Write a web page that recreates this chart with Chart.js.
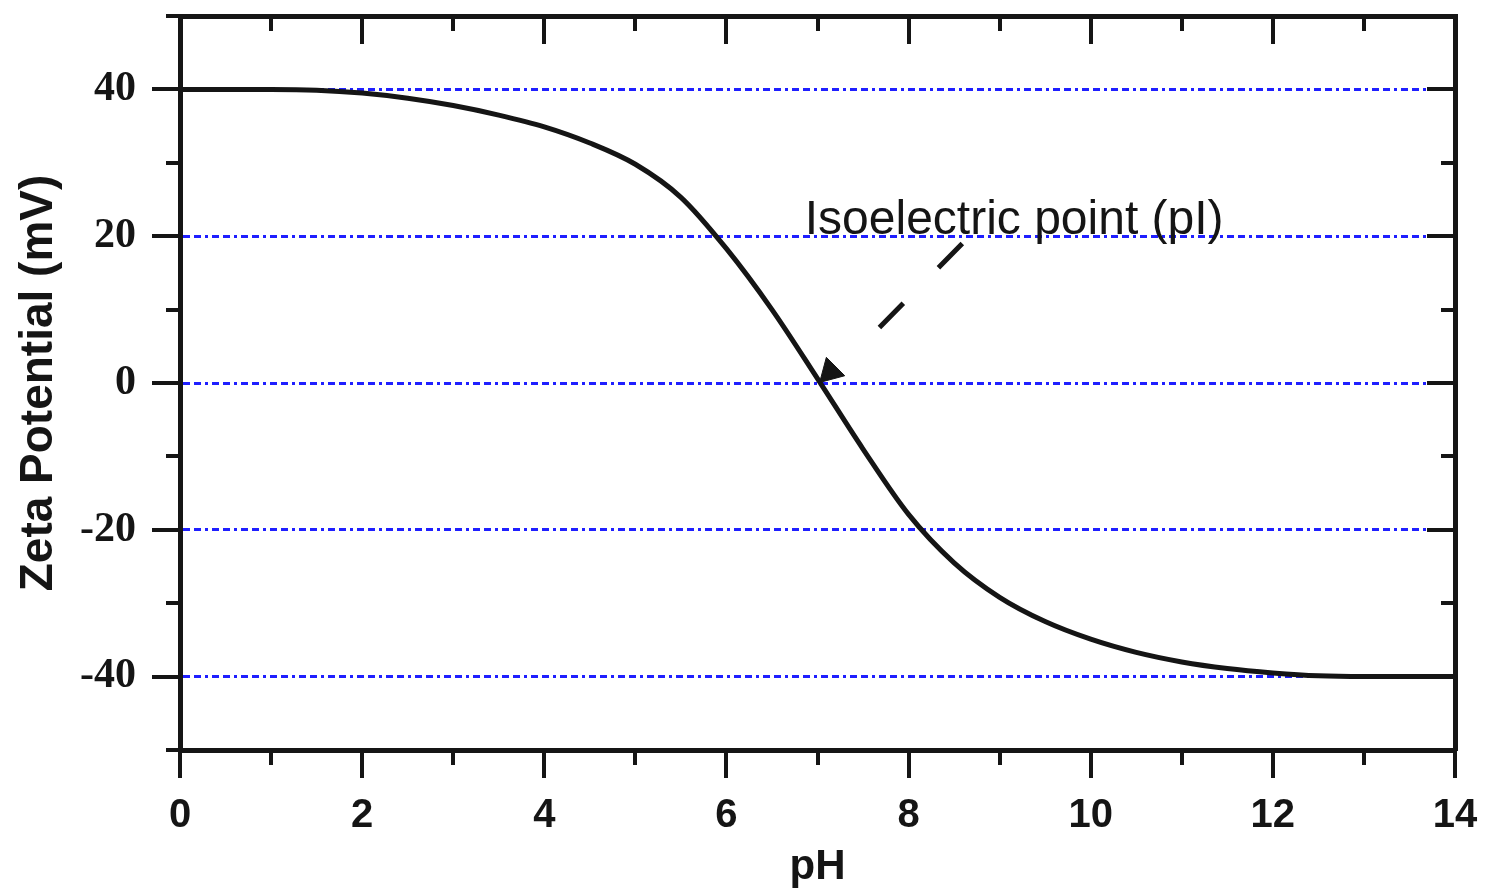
<!DOCTYPE html>
<html>
<head>
<meta charset="utf-8">
<script src="https://cdn.jsdelivr.net/npm/chart.js@4.4.1/dist/chart.umd.min.js"></script>
<style>
  html, body { margin: 0; padding: 0; background: #ffffff; }
  #wrap { width: 1487px; height: 893px; }
</style>
</head>
<body>
<div id="wrap"><canvas id="c" width="1487" height="893"></canvas></div>
<script>
// ---- data ----
const phValues   = [0, 1, 1.5, 2, 2.5, 3, 3.5, 4, 4.5, 5, 5.5, 6, 6.5, 7, 7.5, 8, 8.5, 9, 9.5, 10, 10.5, 11, 11.5, 12, 12.5, 13, 14];
const zetaValues = [40, 40, 39.9, 39.5, 38.8, 37.8, 36.5, 34.9, 32.7, 29.8, 25.3, 18.3, 10.0, 0.6, -9.0, -17.9, -24.5, -29.2, -32.5, -34.9, -36.7, -38.0, -38.9, -39.5, -39.9, -40, -40];
const arrowFrom  = [8.59, 19.0];   // pH, mV : tail of dashed pointer
const arrowTo    = [7.37, 3.66];   // pH, mV : base of arrow head
const arrowHead  = [7.14, 1.52];   // pH, mV : arrow head centre
const annotationText = 'Isoelectric point (pI)';
const annotationAt   = [6.86, 20.3];
const xTickValues = [0, 1, 2, 3, 4, 5, 6, 7, 8, 9, 10, 11, 12, 13, 14];
const yTickValues = [-50, -40, -30, -20, -10, 0, 10, 20, 30, 40, 50];
const xTitle = 'pH';
const yTitle = 'Zeta Potential (mV)';

const INK = '#151515';
const GRIDBLUE = '#1f1fff';

function noPad(s) { s.paddingLeft = 0; s.paddingRight = 0; s.paddingTop = 0; s.paddingBottom = 0; }

const tickPlugin = {
  id: 'frameTicks',
  afterDatasetsDraw(chart) {
    const ctx = chart.ctx;
    const xs = chart.scales.x, ys = chart.scales.y;
    const a = chart.chartArea;
    ctx.save();
    ctx.strokeStyle = INK;
    ctx.lineWidth = 4;
    xTickValues.forEach(v => {
      const px = Math.round(xs.getPixelForValue(v));
      const len = (v % 2 === 0) ? 28 : 15;
      ctx.beginPath(); ctx.moveTo(px, a.bottom); ctx.lineTo(px, a.bottom + len); ctx.stroke();
      ctx.beginPath(); ctx.moveTo(px, a.top); ctx.lineTo(px, a.top + len); ctx.stroke();
    });
    yTickValues.forEach(v => {
      const py = Math.round(ys.getPixelForValue(v));
      const len = (v % 20 === 0) ? 28 : 14;
      ctx.beginPath(); ctx.moveTo(a.left - len, py); ctx.lineTo(a.left, py); ctx.stroke();
      ctx.beginPath(); ctx.moveTo(a.right - len, py); ctx.lineTo(a.right, py); ctx.stroke();
    });
    // annotation text
    ctx.fillStyle = INK;
    ctx.font = '48px "Liberation Sans", Arial, sans-serif';
    ctx.textBaseline = 'alphabetic';
    ctx.textAlign = 'left';
    ctx.fillText(annotationText, xs.getPixelForValue(annotationAt[0]), ys.getPixelForValue(annotationAt[1]));
    ctx.restore();
  }
};

const chart = new Chart(document.getElementById('c'), {
  type: 'line',
  data: {
    datasets: [
      {
        label: 'zeta',
        data: phValues.map((x, i) => ({ x: x, y: zetaValues[i] })),
        borderColor: INK,
        borderWidth: 5,
        pointRadius: 0,
        cubicInterpolationMode: 'monotone',
        fill: false,
        order: 1
      },
      {
        label: 'pointer',
        data: [{ x: arrowFrom[0], y: arrowFrom[1] }, { x: arrowTo[0], y: arrowTo[1] }],
        borderColor: INK,
        borderWidth: 5,
        borderDash: [34, 50],
        borderCapStyle: 'butt',
        pointRadius: 0,
        fill: false,
        order: 0
      },
      {
        label: 'head',
        data: [{ x: arrowHead[0], y: arrowHead[1] }],
        showLine: false,
        pointStyle: 'triangle',
        pointRadius: 15,
        pointRotation: 225,
        pointBackgroundColor: INK,
        pointBorderColor: INK,
        pointBorderWidth: 1,
        order: 0
      }
    ]
  },
  options: {
    responsive: false,
    animation: false,
    events: [],
    layout: { padding: 0 },
    plugins: { legend: { display: false }, tooltip: { enabled: false }, title: { display: false } },
    scales: {
      x: {
        type: 'linear', position: 'bottom', min: 0, max: 14,
        afterFit(s) { s.height = 143; noPad(s); },
        afterBuildTicks(s) { s.ticks = xTickValues.filter(v => v % 2 === 0).map(v => ({ value: v })); },
        grid: { display: false, drawTicks: false },
        border: { display: true, color: INK, width: 5 },
        ticks: {
          color: INK, padding: 42, maxRotation: 0, autoSkip: false,
          font: { family: '"Liberation Sans", Arial, sans-serif', size: 40, weight: 'bold' }
        },
        title: {
          display: true, text: xTitle, color: INK, padding: { top: 4, bottom: 0 },
          font: { family: '"Liberation Sans", Arial, sans-serif', size: 42, weight: 'bold' }
        }
      },
      xTop: {
        type: 'linear', position: 'top', min: 0, max: 14,
        afterFit(s) { s.height = 16; noPad(s); },
        grid: { display: false, drawTicks: false },
        border: { display: true, color: INK, width: 5 },
        ticks: { display: false }
      },
      y: {
        type: 'linear', position: 'left', min: -50, max: 50,
        afterFit(s) { s.width = 180; noPad(s); },
        afterBuildTicks(s) { s.ticks = yTickValues.map(v => ({ value: v })); },
        grid: {
          display: true, drawTicks: false, drawOnChartArea: true, lineWidth: 3,
          color: c => (c.tick && c.tick.value % 20 === 0 && Math.abs(c.tick.value) < 50) ? GRIDBLUE : 'rgba(0,0,0,0)'
        },
        border: { display: true, color: INK, width: 5, dash: [7, 4, 7, 4, 3, 4] },
        ticks: {
          color: INK, padding: 44,
          callback: v => (v % 20 === 0 && Math.abs(v) < 50) ? String(v) : '',
          font: { family: '"Liberation Serif", "Times New Roman", serif', size: 42, weight: 'bold' }
        },
        title: {
          display: true, text: yTitle, color: INK, padding: { top: 12, bottom: 0 },
          font: { family: '"Liberation Sans", Arial, sans-serif', size: 46, weight: 'bold' }
        }
      },
      yRight: {
        type: 'linear', position: 'right', min: -50, max: 50,
        afterFit(s) { s.width = 32; noPad(s); },
        grid: { display: false, drawTicks: false },
        border: { display: true, color: INK, width: 5 },
        ticks: { display: false }
      }
    }
  },
  plugins: [tickPlugin]
});
</script>
</body>
</html>
